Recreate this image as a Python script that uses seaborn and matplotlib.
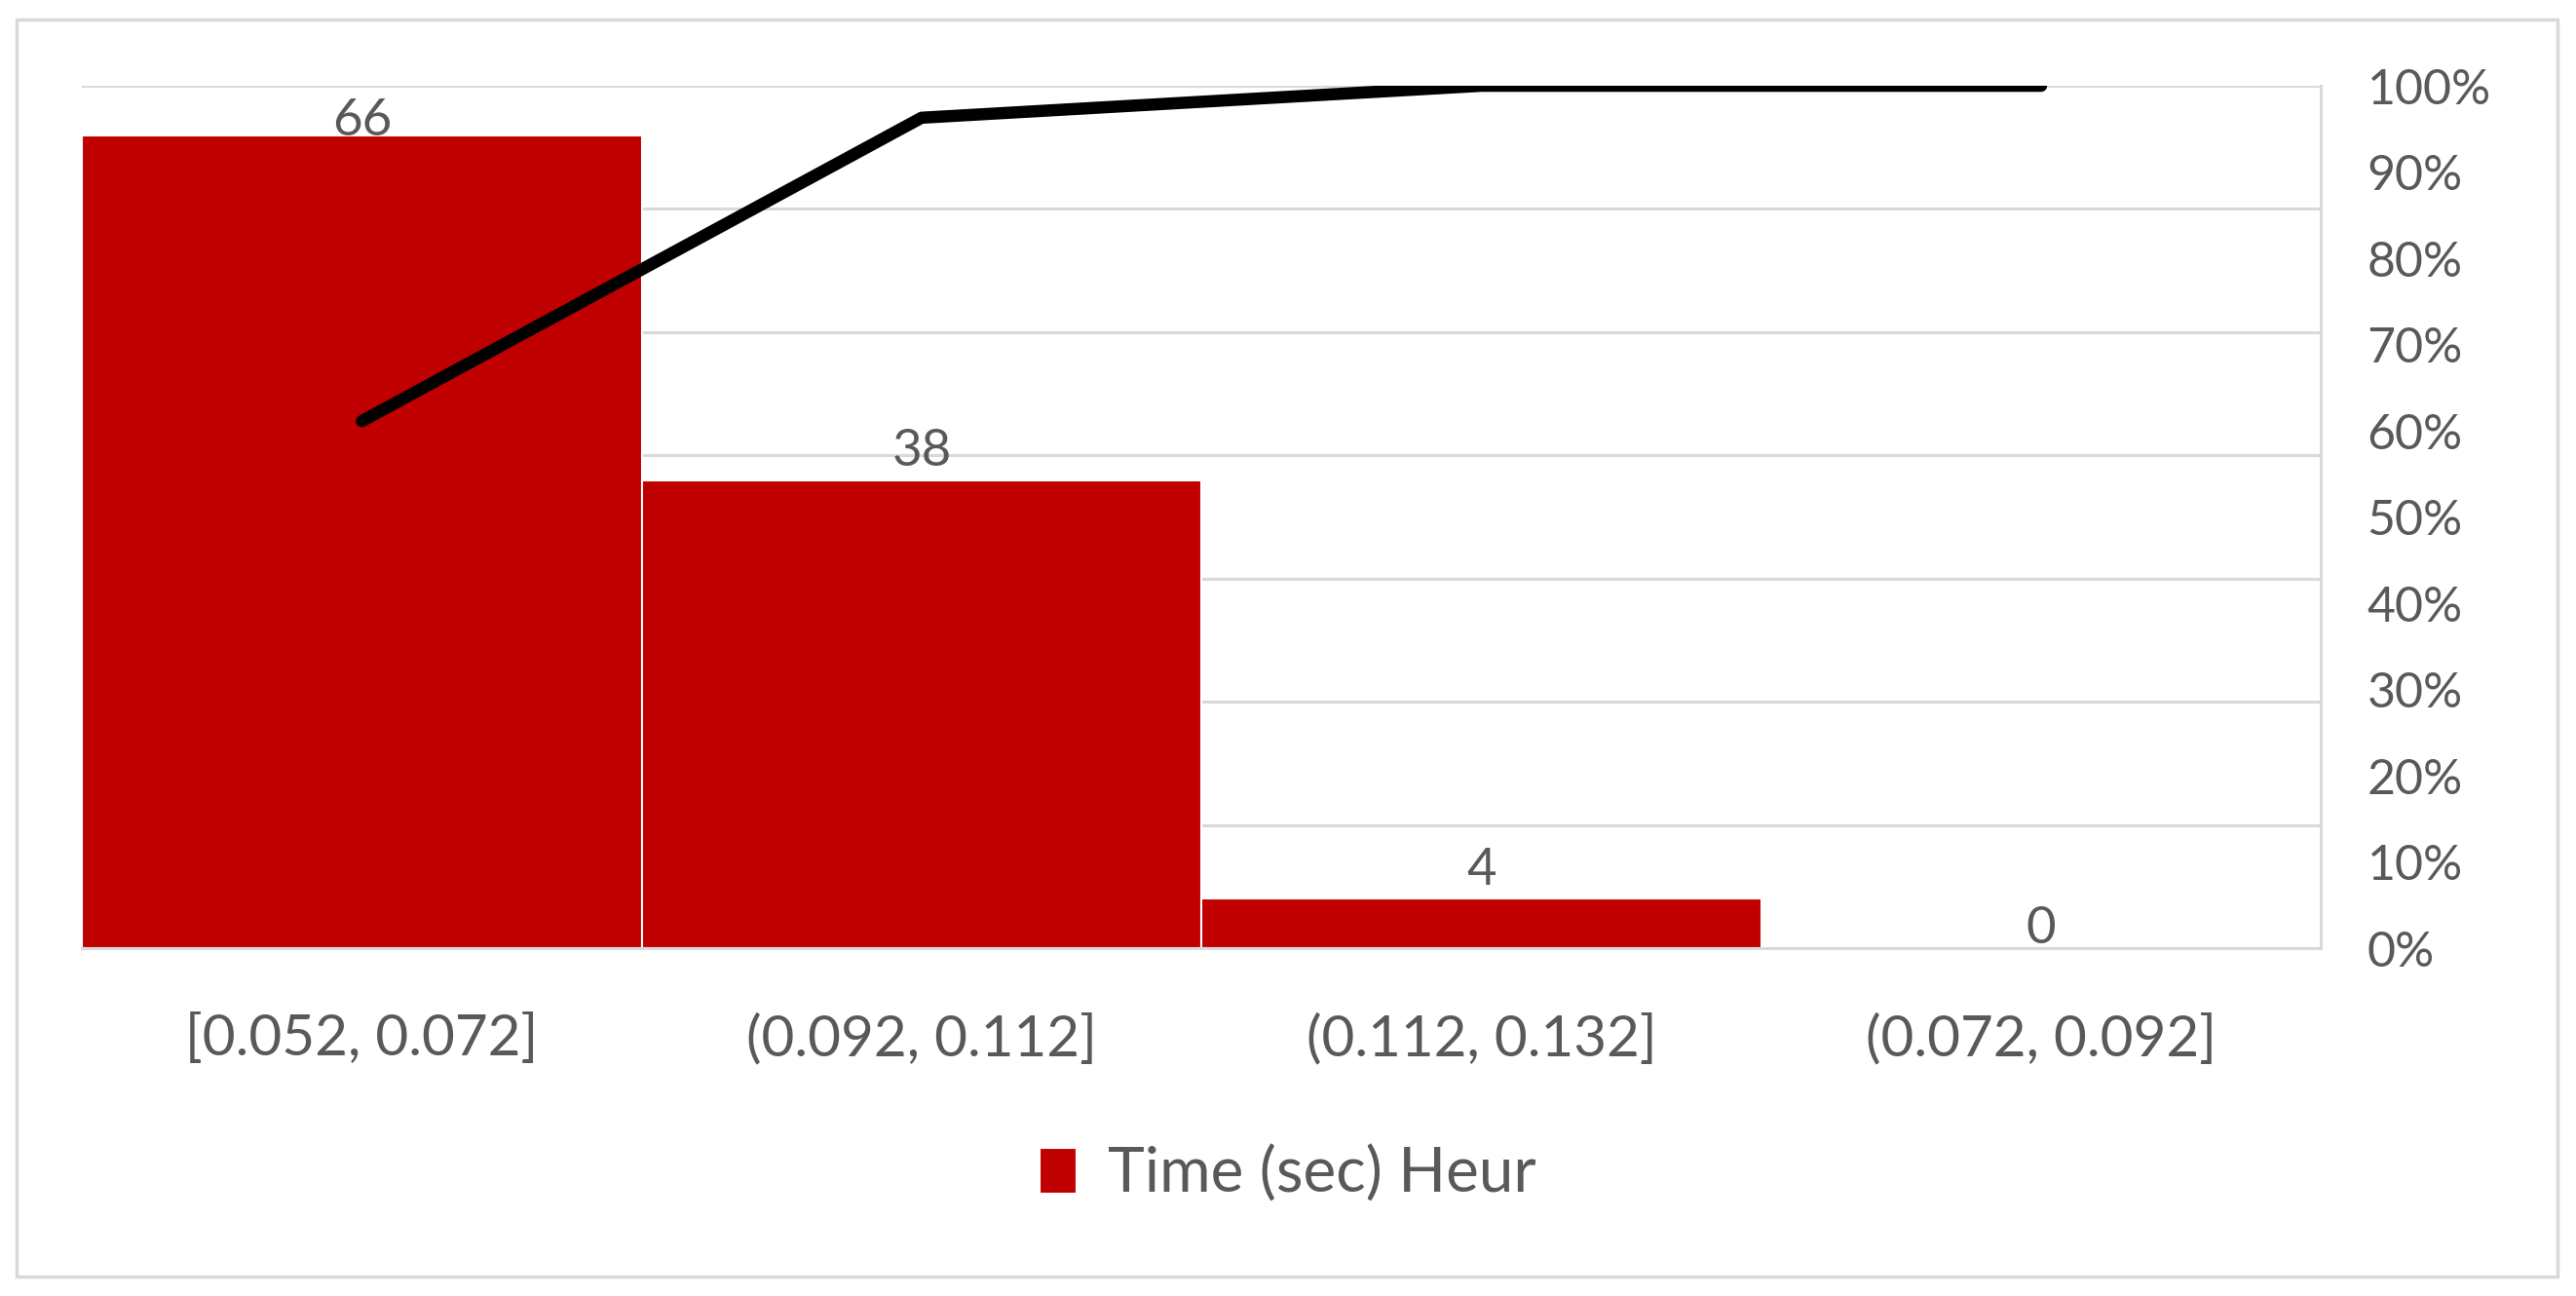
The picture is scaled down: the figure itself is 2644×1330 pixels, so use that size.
import numpy as np
import pandas as pd
import matplotlib
matplotlib.use("Agg")
import matplotlib.pyplot as plt
from matplotlib.patches import Rectangle
from matplotlib.ticker import MultipleLocator, PercentFormatter
import seaborn as sns

# dati del grafico (Pareto)
bins = ["[0.052, 0.072]", "(0.092, 0.112]", "(0.112, 0.132]", "(0.072, 0.092]"]
counts = [66, 38, 4, 0]
series_name = "Time (sec) Heur"

bar_color = "#C00000"
grid_color = "#D9D9D9"
text_color = "#595959"

df = pd.DataFrame({"bin": bins, "count": counts})
df["cum"] = df["count"].cumsum() / df["count"].sum()

sns.set_theme(style="white")
plt.rcParams["font.family"] = ["Lato", "DejaVu Sans"]

fig = plt.figure(figsize=(26.44, 13.30), dpi=100)
ax = fig.add_axes([0.0318, 0.2684, 0.901 - 0.0318, 0.9338 - 0.2684])

# barre
sns.barplot(data=df, x="bin", y="count", color=bar_color, width=1.0,
            edgecolor="white", linewidth=1.5, saturation=1, ax=ax,
            label=series_name, zorder=2)
labels_txt = ax.bar_label(ax.containers[0], labels=[str(v) for v in counts],
                          padding=4, fontsize=38, color=text_color)

# linea cumulativa (asse secondario)
ax2 = ax.twinx()
sns.lineplot(data=df, x="bin", y="cum", sort=False, color="black",
             linewidth=9, ax=ax2, solid_capstyle="round")

# asse primario
ax.set_ylim(0, 70)
ax.set_xlim(-0.5, len(bins) - 0.5)
ax.yaxis.set_major_locator(MultipleLocator(10))
ax.grid(axis="y", color=grid_color, linewidth=2.2, zorder=0)
ax.set_axisbelow(True)
ax.tick_params(axis="y", left=False, right=False, labelleft=False, labelright=False)
ax.tick_params(axis="x", bottom=False, pad=42, labelsize=42, labelcolor=text_color)
ax.set_xlabel("")
ax.set_ylabel("")
for s in ["top", "left", "right"]:
    ax.spines[s].set_visible(False)
ax.spines["bottom"].set_color(grid_color)
ax.spines["bottom"].set_linewidth(2.2)

# asse secondario
ax2.set_ylim(0, 1)
ax2.yaxis.set_major_locator(MultipleLocator(0.1))
ax2.yaxis.set_major_formatter(PercentFormatter(1.0, decimals=0))
ax2.tick_params(axis="y", left=False, right=False, pad=28, labelsize=36,
                labelcolor=text_color)
ax2.set_ylabel("")
ax2.set_xlabel("")
ax2.grid(False)
for s in ["top", "left", "bottom"]:
    ax2.spines[s].set_visible(False)
ax2.spines["right"].set_color(grid_color)
ax2.spines["right"].set_linewidth(2.2)

# come in Excel: etichette tenute dentro l'area del grafico
fig.canvas.draw()
top = ax.get_window_extent().y1
for t, v in zip(labels_txt, counts):
    if t.get_window_extent().y1 > top:
        t.xyann = (0, 4 - 11)
    elif v == 0:
        t.xyann = (0, 4 - 7)

# legenda
handles, labels = ax.get_legend_handles_labels()
fig.legend(handles, labels, loc="center", bbox_to_anchor=(0.5, 0.094),
           frameon=False, fontsize=46, labelcolor=text_color,
           handlelength=0.6, handleheight=0.75, handletextpad=0.5)
if ax.get_legend() is not None:
    ax.get_legend().remove()

# bordo esterno
fig.patches.append(Rectangle((17 / 2644, 20 / 1330), 2608 / 2644, 1290 / 1330,
                             transform=fig.transFigure, fill=False,
                             edgecolor=grid_color, linewidth=2.5))

fig.savefig("out.png", dpi=100)
